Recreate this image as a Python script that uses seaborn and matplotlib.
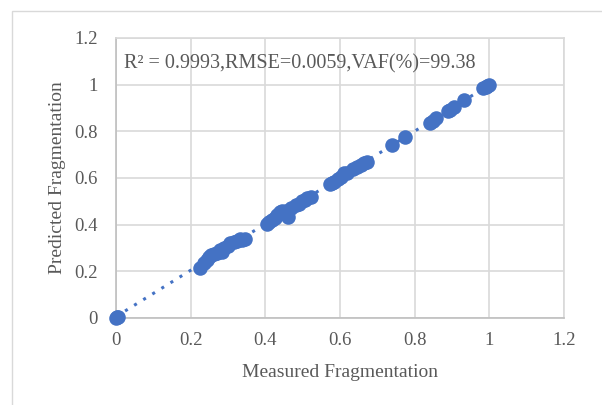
import numpy as np
import pandas as pd
import matplotlib
matplotlib.use("Agg")
import matplotlib.pyplot as plt
import seaborn as sns
from matplotlib.patches import Rectangle

measured = [0.0, 0.003, 0.006, 0.224, 0.235, 0.245, 0.25, 0.255, 0.262, 0.27, 0.278, 0.283,
            0.29, 0.30, 0.306, 0.315, 0.325, 0.333, 0.338, 0.345, 0.404, 0.41, 0.418,
            0.425, 0.432, 0.44, 0.445, 0.455, 0.46, 0.47, 0.481, 0.49, 0.498, 0.505,
            0.512, 0.522, 0.572, 0.578, 0.585, 0.595, 0.604, 0.612, 0.62, 0.635, 0.645,
            0.655, 0.663, 0.671, 0.738, 0.774, 0.841, 0.848, 0.856, 0.888, 0.895,
            0.905, 0.933, 0.982, 0.99, 0.995, 1.0]
predicted = [0.0, 0.003, 0.004, 0.214, 0.235, 0.249, 0.262, 0.27, 0.275, 0.28, 0.29, 0.285,
             0.30, 0.31, 0.32, 0.325, 0.33, 0.34, 0.335, 0.34, 0.405, 0.413, 0.42,
             0.43, 0.44, 0.455, 0.46, 0.46, 0.434, 0.47, 0.484, 0.49, 0.50, 0.505,
             0.514, 0.52, 0.575, 0.578, 0.585, 0.595, 0.605, 0.62, 0.622, 0.64, 0.649,
             0.655, 0.665, 0.67, 0.741, 0.777, 0.834, 0.845, 0.856, 0.888, 0.891,
             0.906, 0.934, 0.984, 0.99, 0.995, 0.999]

x_ticks = [0, 0.2, 0.4, 0.6, 0.8, 1, 1.2]
y_ticks = [0, 0.2, 0.4, 0.6, 0.8, 1, 1.2]
x_label = "Measured Fragmentation"
y_label = "Predicted Fragmentation"
annotation = "R² = 0.9993,RMSE=0.0059,VAF(%)=99.38"

df = pd.DataFrame({"Measured": measured, "Predicted": predicted})

sns.set_theme(style="white")
plt.rcParams["font.family"] = ["Liberation Serif", "DejaVu Serif"]

blue = "#4472C4"
text_color = "#595959"
grid_color = "#D9D9D9"

fig = plt.figure(figsize=(6.02, 4.05), dpi=100)
ax = fig.add_axes([116/602, 1 - 318/405, 448/602, 280/405])

fig.patches.append(Rectangle((12/602, -0.1), 2, 1 - 11/405 + 0.1, transform=fig.transFigure,
                             fill=False, edgecolor=grid_color, linewidth=1.0, zorder=0))

sns.regplot(data=df, x="Measured", y="Predicted", ax=ax, ci=None,
            scatter_kws=dict(s=110, color=blue, alpha=1, linewidths=0, zorder=3, clip_on=False),
            line_kws=dict(color=blue, linestyle=(0, (1, 2.5)), linewidth=2.2, zorder=2))

ax.set_xlim(0, 1.2)
ax.set_ylim(0, 1.2)
ax.set_xticks(x_ticks)
ax.set_yticks(y_ticks)
ax.set_xticklabels([f"{t:g}" for t in x_ticks])
ax.set_yticklabels([f"{t:g}" for t in y_ticks])
ax.grid(True, color=grid_color, linewidth=1.2)
ax.set_axisbelow(True)
for side, sp in ax.spines.items():
    sp.set_color(grid_color)
    sp.set_linewidth(1.2)
ax.spines["left"].set_color("#BFBFBF")
ax.spines["bottom"].set_color("#BFBFBF")
ax.tick_params(axis="both", length=0, labelsize=13.5, colors=text_color)
ax.tick_params(axis="x", pad=10)
ax.tick_params(axis="y", pad=13)

ax.set_xlabel(x_label, fontsize=14, color=text_color, labelpad=11)
ax.set_ylabel(y_label, fontsize=14, color=text_color, labelpad=6)

ax.text(0.022, 1.09, annotation, fontsize=14.5, color=text_color, va="center", ha="left")

fig.savefig("out.png", dpi=100)
